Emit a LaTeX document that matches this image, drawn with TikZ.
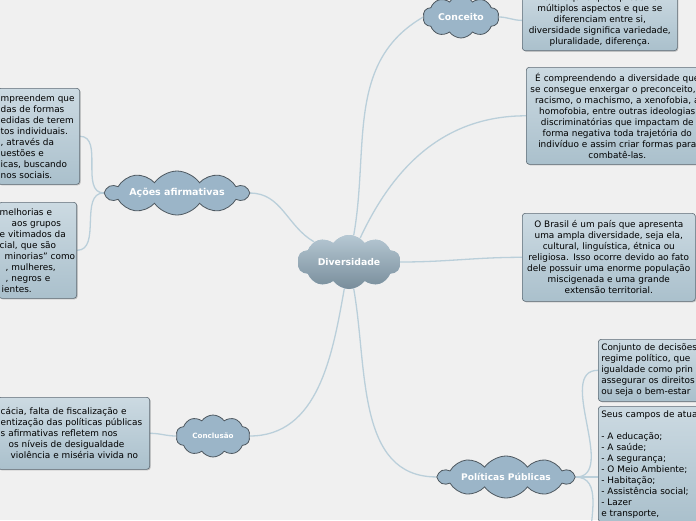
\documentclass[tikz,border=0pt]{standalone}
\usepackage{fontspec}
\setmainfont{DejaVu Sans}
\usetikzlibrary{shapes.symbols,shadows,backgrounds}
\definecolor{fundo}{RGB}{240,240,240}
\definecolor{nuvem}{RGB}{155,181,200}
\definecolor{nuvemborda}{RGB}{78,88,96}
\definecolor{nuvemtopo}{RGB}{182,200,211}
\definecolor{nuvembase}{RGB}{120,141,155}
\definecolor{caixatopo}{RGB}{204,218,226}
\definecolor{caixabase}{RGB}{170,192,204}
\definecolor{caixaborda}{RGB}{95,108,118}
\definecolor{ramocor}{RGB}{186,207,218}

\begin{document}
\begin{tikzpicture}[x=1pt,y=-1pt,
    topico/.style={cloud,cloud puffs=10,cloud puff arc=110,cloud ignores aspect,fill=nuvem,draw=nuvemborda,line width=0.8pt,text=white,inner sep=0pt,font=\bfseries\fontsize{9.3}{11}\selectfont},
    caixa/.style={rectangle,rounded corners=3pt,draw=caixaborda,line width=0.6pt,top color=caixatopo,bottom color=caixabase,inner ysep=4pt,inner xsep=3pt,font=\fontsize{8.9}{11}\selectfont,drop shadow={shadow xshift=1pt,shadow yshift=-1pt,opacity=.3,fill=black!70}},
    ramo/.style={draw=ramocor,line width=1.3pt}]
  \useasboundingbox (0,0) rectangle (696,520);
  \clip (0,0) rectangle (696,520);
  \begin{scope}[on background layer]
    \fill[fundo] (0,0) rectangle (696,520);
  \end{scope}

  \node[topico,draw=none,top color=nuvemtopo,bottom color=nuvembase,minimum width=103pt,minimum height=54pt] at (349,262) (div) {Diversidade};
  \node[topico,minimum width=76pt,minimum height=42pt] at (461,17) (conc) {Conceito};
  \node[topico,minimum width=142pt,minimum height=44pt,font=\bfseries\fontsize{9.5}{11}\selectfont] at (177,193) (acoes) {Ações afirmativas};
  \node[topico,minimum width=74pt,minimum height=42pt,font=\bfseries\fontsize{7.2}{9}\selectfont] at (213,436) (concl) {Conclusão};
  \node[topico,minimum width=135pt,minimum height=42pt,font=\bfseries\fontsize{9.1}{11}\selectfont] at (506,477) (pol) {Políticas Públicas};

  \node[caixa,anchor=south west,text width=149pt,align=center] at (522,51) (cbox) {tudo aquilo que apresenta\\ múltiplos aspectos e que se\\ diferenciam entre si,\\ diversidade significa variedade,\\ pluralidade, diferença.};
  \node[caixa,anchor=north west,inner xsep=2pt,text width=178pt,align=center,minimum height=97pt] at (526,67) (b2) {É compreendendo a diversidade que\\ se consegue enxergar o preconceito, o\\ racismo, o machismo, a xenofobia, a\\ homofobia, entre outras ideologias\\ discriminatórias que impactam de\\ forma negativa toda trajetória do\\ indivíduo e assim criar formas para\\ combatê-las.};
  \node[caixa,anchor=north west,inner xsep=1pt,text width=171pt,align=center,minimum height=88pt] at (522,213) (b3) {O Brasil é um país que apresenta\\ uma ampla diversidade, seja ela,\\ cultural, linguística, étnica ou\\ religiosa. Isso ocorre devido ao fato\\ dele possuir uma enorme população\\ miscigenada e uma grande\\ extensão territorial.};
  \node[caixa,anchor=north west,text width=120pt,align=left,minimum height=62pt] at (598,339) (b4) {Conjunto de decisões\\ regime político, que\\ igualdade como prin\\ assegurar os direitos\\ ou seja o bem-estar};
  \node[caixa,anchor=north west,text width=120pt,align=left] at (598,406) (b5) {Seus campos de atua\\[11pt] - A educação;\\ - A saúde;\\ - A segurança;\\ - O Meio Ambiente;\\ - Habitação;\\ - Assistência social;\\ - Lazer\\ e transporte,};
  \node[caixa,anchor=north east,text width=76pt,align=left,minimum height=96pt] at (80,88) (a1) {mpreendem que\\ das de formas\\ edidas de terem\\ tos individuais.\\ , através da\\ uestões e\\ icas, buscando\\ nos sociais.};
  \node[caixa,anchor=north east,inner xsep=1pt,text width=76pt,align=left,minimum height=96pt] at (77,202) (a2) {melhorias e\\ \hspace*{12pt}aos grupos\\ e vitimados da\\ cial, que são\\ \hspace*{5pt}minorias" como\\ \hspace*{6pt}, mulheres,\\ \hspace*{6pt}, negros e\\ \hspace*{2pt}ientes.};
  \node[caixa,anchor=north east,text width=146pt,align=left,minimum height=72pt] at (150,397) (cx) {cácia, falta de fiscalização e\\ entização das políticas públicas\\ s afirmativas refletem nos\\ \hspace*{8pt}os níveis de desigualdade\\ \hspace*{10pt}violência e miséria vivida no};
  \coordinate (b5in) at (b5.north west |- pol.east);
  \coordinate (fora) at (590,545);

  \begin{scope}[on background layer]
    \clip (0,0) rectangle (696,520);
    \draw[ramo] (div) to[out=80,in=210] (conc.west);
    \draw[ramo] (div) to[out=65,in=180] (b2.west);
    \draw[ramo] (div) to[out=0,in=180] (b3.west);
    \draw[ramo] (div) to[out=-80,in=180] (pol.west);
    \draw[ramo] (div) to[out=-100,in=0] (concl.east);
    \draw[ramo] (div) to[out=150,in=0] (acoes.east);
    \draw[ramo] (conc.east) to[out=0,in=180] (cbox.west);
    \draw[ramo] (acoes.west) to[out=180,in=0] (a1.east);
    \draw[ramo] (acoes.west) to[out=180,in=0] (a2.east);
    \draw[ramo] (concl.west) to[out=180,in=0] (cx.east);
    \draw[ramo] (pol.east) to[out=0,in=180] (b4.west);
    \draw[ramo] (pol.east) -- (b5in);
    \draw[ramo] (pol.east) to[out=0,in=90] (fora);
  \end{scope}
\end{tikzpicture}
\end{document}
